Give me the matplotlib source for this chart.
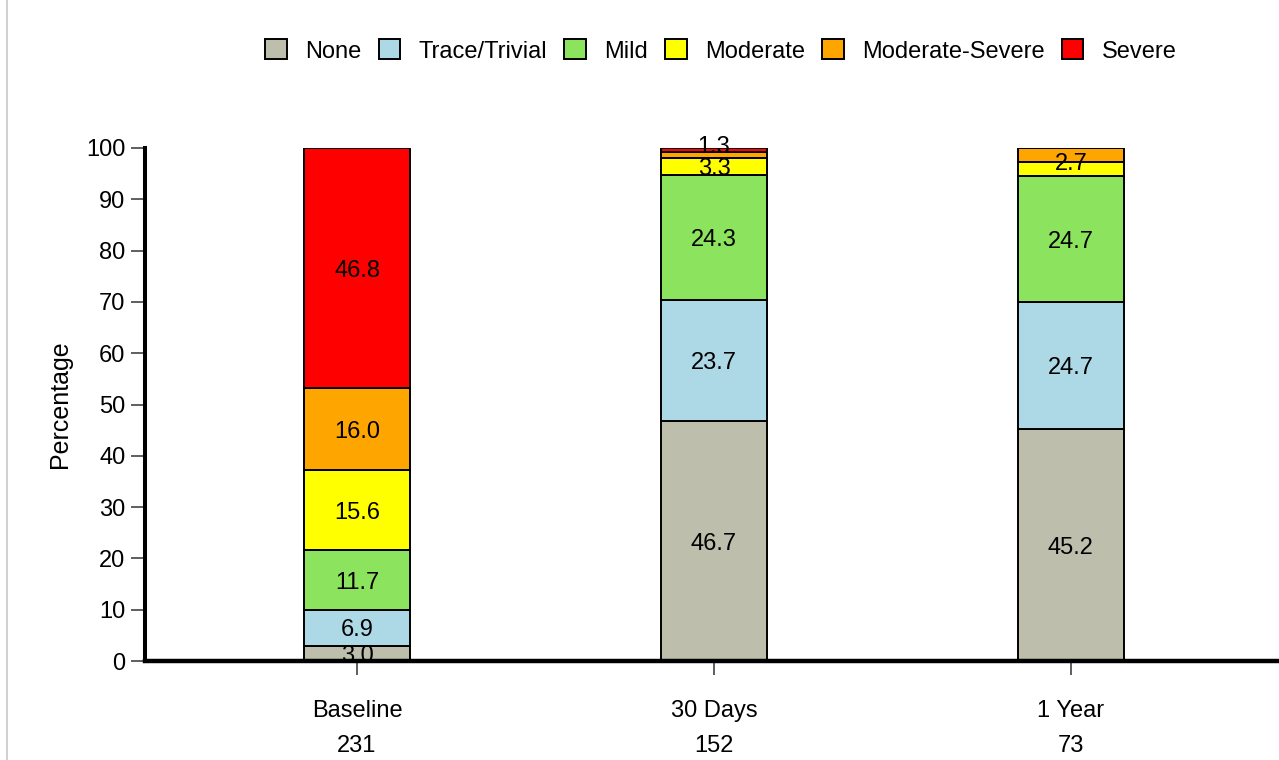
import matplotlib.pyplot as plt
import numpy as np
from matplotlib.patches import Patch
from matplotlib.lines import Line2D

plt.rcParams['font.family'] = ['Liberation Sans', 'DejaVu Sans']

grupos = ['Baseline', '30 Days', '1 Year']
n_pacientes = [231, 152, 73]
categorias = ['None', 'Trace/Trivial', 'Mild', 'Moderate', 'Moderate-Severe', 'Severe']
cores = ['#BDBEAC', '#ADD8E6', '#8CE45E', '#FFFF00', '#FFA500', '#FF0000']

# percentuais por categoria (linhas) e grupo (colunas)
valores = np.array([
    [3.0, 46.7, 45.2],
    [6.9, 23.7, 24.7],
    [11.7, 24.3, 24.7],
    [15.6, 3.3, 2.7],
    [16.0, 1.3, 2.7],
    [46.8, 0.7, 0.0],
])

FS = 17

fig = plt.figure(figsize=(12.79, 7.6), dpi=100)
ax = fig.add_axes([145 / 1279, 1 - 661 / 760, 1 - 145 / 1279, (661 - 148) / 760])

x = np.arange(len(grupos))
largura = 0.297
base = np.zeros(len(grupos))
for i, cat in enumerate(categorias):
    ax.bar(x, valores[i], largura, bottom=base, color=cores[i],
           edgecolor='black', linewidth=1.4, label=cat, zorder=2)
    base = base + valores[i]

# rotulos dos segmentos (empurra para cima quando encostam)
gap = 4.4
for j in range(len(grupos)):
    topo = np.cumsum(valores[:, j])
    rotulos = []
    for i in range(len(categorias)):
        v = valores[i, j]
        if v < 1:
            continue
        y = topo[i] - v / 2
        txt = f'{v:.1f}'
        if rotulos and y - rotulos[-1][0] < gap:
            if rotulos[-1][1] == txt:
                rotulos[-1] = ((rotulos[-1][0] + y) / 2, txt)
                continue
            y = rotulos[-1][0] + gap
        rotulos.append((y, txt))
    for y, txt in rotulos:
        ax.text(x[j], y, txt, ha='center', va='center_baseline', fontsize=FS, zorder=3)

ax.set_xlim(-0.594, 2.583)
ax.set_ylim(0, 100)
ax.set_yticks(np.arange(0, 101, 10))
ax.set_xticks(x)
ax.set_xticklabels([f'{g}\n{n}' for g, n in zip(grupos, n_pacientes)],
                   fontsize=FS, linespacing=1.75)
ax.tick_params(axis='y', labelsize=FS, length=10, width=1.1, color='#333333', pad=4)
ax.tick_params(axis='x', length=10, width=1.1, color='#333333', pad=18)
ax.set_ylabel('Percentage', fontsize=18, labelpad=10)

for lado in ['top', 'right']:
    ax.spines[lado].set_visible(False)
ax.spines['left'].set_linewidth(2.9)
ax.spines['bottom'].set_linewidth(3.2)

handles = [Patch(facecolor=c, edgecolor='black', linewidth=1.4) for c in cores]
fig.legend(handles, categorias, loc='center', bbox_to_anchor=(721 / 1279, 1 - 51 / 760),
           ncol=6, frameon=False, fontsize=FS, handlelength=0.9, handleheight=0.93,
           handletextpad=0.78, columnspacing=0.74)

fig.add_artist(Line2D([7 / 1279, 7 / 1279], [0, 1], color='#C8C8C8', linewidth=1.2))

plt.savefig('out.png', dpi=100)
